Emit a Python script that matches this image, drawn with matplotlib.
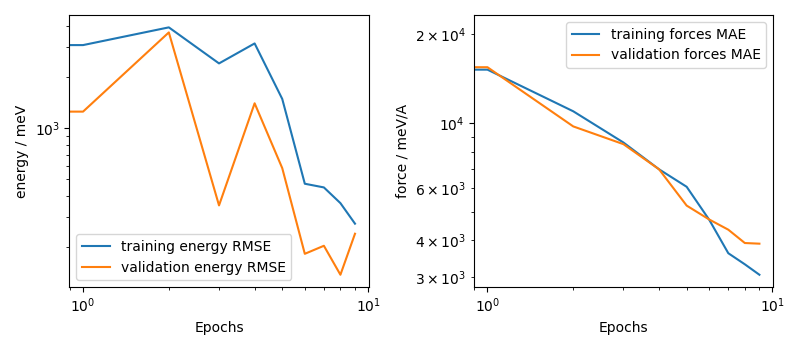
import numpy as np
import matplotlib.pyplot as plt

plt.style.use("default")

# Epoch 0 sits off the log axis (clipped), the first visible point is epoch 1
epochs = [0, 1, 2, 3, 4, 5, 6, 7, 8, 9]

train_energy_rmse = [3090, 3090, 3930, 2410, 3160, 1488, 471, 448, 362, 274]
val_energy_rmse = [1253, 1253, 3670, 351, 1403, 582, 182, 203, 137, 239]

train_forces_mae = [21100, 15170, 10960, 8590, 6970, 6080, 4700, 3620, 3320, 3060]
val_forces_mae = [15460, 15460, 9740, 8480, 6970, 5250, 4710, 4350, 3920, 3900]

fig, (ax1, ax2) = plt.subplots(1, 2, figsize=(8, 3.5), dpi=100)

ax1.plot(epochs, train_energy_rmse, label="training energy RMSE")
ax1.plot(epochs, val_energy_rmse, label="validation energy RMSE")
ax1.set_xscale("log")
ax1.set_yscale("log")
ax1.set_xlabel("Epochs")
ax1.set_ylabel("energy / meV")
ax1.legend(loc="lower left")

ax2.plot(epochs, train_forces_mae, label="training forces MAE")
ax2.plot(epochs, val_forces_mae, label="validation forces MAE")
ax2.set_xscale("log")
ax2.set_yscale("log")
ax2.set_xlabel("Epochs")
ax2.set_ylabel("force / meV/A")
ax2.legend(loc="upper right")

plt.tight_layout()
plt.savefig("out.png")
